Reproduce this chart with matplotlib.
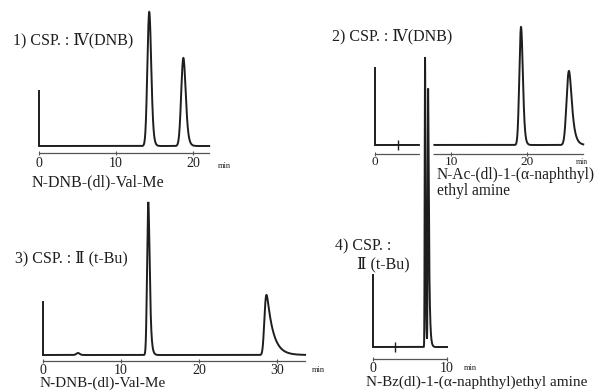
import numpy as np
import matplotlib
matplotlib.use("Agg")
import matplotlib.pyplot as plt
import matplotlib.patheffects as pe

plt.rcParams['font.family'] = ['Liberation Serif', 'DejaVu Serif', 'DejaVu Sans']

# ---------------- data (retention time in min, intensity in arbitrary units) -------------
p1_title = "1) CSP. : Ⅳ(DNB)"
p1_compound = "N-DNB-(dl)-Val-Me"
p1_ticks = [0, 10, 20]
p1_end = 22.1
p1_inj = 55
p1_rt = [14.2, 18.6]
p1_height = [134, 88]
p1_sigma = [0.22, 0.25]
p1_tau = [0.15, 0.2]
p1_marks = []

p2_title = "2) CSP. : Ⅳ(DNB)"
p2_compound = ["N-Ac-(dl)-1-(α-naphthyl)", "ethyl amine"]
p2_ticks = [0, 10, 20]
p2_end = 27.4
p2_inj = 77
p2_rt = [19.1, 25.3]
p2_height = [118, 74]
p2_sigma = [0.2, 0.26]
p2_tau = [0.15, 0.35]
p2_marks = [3.0]

p3_title = "3) CSP. : Ⅱ (t-Bu)"
p3_compound = "N-DNB-(dl)-Val-Me"
p3_ticks = [0, 10, 20, 30]
p3_end = 33.6
p3_inj = 53
p3_rt = [4.4, 13.4, 28.4]
p3_height = [2, 153, 60]
p3_sigma = [0.2, 0.13, 0.18]
p3_tau = [0.1, 0.15, 0.8]
p3_marks = []

p4_title = ["4) CSP. :", "Ⅱ (t-Bu)"]
p4_compound = "N-Bz(dl)-1-(α-naphthyl)ethyl amine"
p4_ticks = [0, 10]
p4_end = 10.0
p4_inj = 72
p4_rt = [7.0, 7.4]
p4_height = [290, 258]
p4_sigma = [0.04, 0.04]
p4_tau = [0.06, 0.12]
p4_marks = [3.0]

W, H = 600, 391
fig = plt.figure(figsize=(W / 100, H / 100), dpi=100)
fig.patch.set_facecolor('white')

INK = '#1e1e1e'


def trace(t_end, inj, rts, heights, sigmas, taus):
    dt = 0.002
    t = np.arange(0, t_end + dt, dt)
    y = np.zeros_like(t)
    for rt, h, s, tau in zip(rts, heights, sigmas, taus):
        g = np.exp(-0.5 * ((t - rt) / s) ** 2)
        kt = np.arange(0, 8 * tau, dt)
        k = np.exp(-kt / tau)
        k /= k.sum()
        c = np.convolve(g, k)[:len(t)]
        y += h * c / c.max()
    t = np.concatenate([[0, 0], t])
    y = np.concatenate([[inj, 0], y])
    return t, y


def panel(t0px, ppm, base_py, axis_py, top_py, t_end, inj, rts, heights, sigmas, taus,
          ticks, marks, halo=False, z=1, pad=1.5, lsize=10):
    left_px = t0px - 4
    right_px = t0px + t_end * ppm + 4
    ax = fig.add_axes([left_px / W, 1 - axis_py / H, (right_px - left_px) / W,
                       (axis_py - top_py) / H], zorder=z)
    ax.patch.set_visible(False)
    ax.set_xlim(-4 / ppm, t_end + 4 / ppm)
    ax.set_ylim(-(axis_py - base_py), base_py - top_py)
    t, y = trace(t_end, inj, rts, heights, sigmas, taus)
    kw = {}
    if halo:
        kw['path_effects'] = [pe.Stroke(linewidth=7, foreground='white'), pe.Normal()]
    ax.plot(t, y, color=INK, lw=1.4, solid_joinstyle='miter', clip_on=False, **kw)
    if marks:
        ax.plot(marks, [0] * len(marks), ls='none', marker='|', ms=7, mew=1.0, color=INK)
    for s in ['top', 'right', 'left']:
        ax.spines[s].set_visible(False)
    ax.spines['bottom'].set_bounds(0, t_end)
    ax.spines['bottom'].set_color('#555555')
    ax.spines['bottom'].set_linewidth(0.9)
    ax.set_yticks([])
    ax.set_xticks(ticks)
    ax.set_xticklabels([str(v) for v in ticks])
    ax.tick_params(axis='x', direction='inout', length=3, width=0.8, color='#555555',
                   pad=pad, labelsize=lsize, labelcolor=INK)
    return ax


def txt(x, y, s, size=11.5, **kw):
    fig.text(x / W, 1 - y / H, s, fontsize=size, color=INK, ha='left', va='center', **kw)


panel(39, 7.7, 146, 153, 10, p1_end, p1_inj, p1_rt, p1_height, p1_sigma, p1_tau, p1_ticks, p1_marks)
panel(375, 7.6, 145, 154, 25, p2_end, p2_inj, p2_rt, p2_height, p2_sigma, p2_tau, p2_ticks, p2_marks,
      pad=0.0, lsize=9.5)
panel(43, 7.8, 355, 361, 200, p3_end, p3_inj, p3_rt, p3_height, p3_sigma, p3_tau, p3_ticks, p3_marks,
      pad=0.5)
panel(373, 7.4, 347, 359, 55, p4_end, p4_inj, p4_rt, p4_height, p4_sigma, p4_tau, p4_ticks, p4_marks,
      halo=True, z=3, pad=0.5)

txt(13, 40, p1_title)
txt(332, 36, p2_title)
txt(15, 258, p3_title)
txt(335, 246, p4_title[0])
txt(357, 264, p4_title[1])

txt(32, 182, p1_compound)
txt(437, 183, "\n".join(p2_compound), size=11.2, linespacing=1.05)
txt(40, 383, p3_compound, size=11)
txt(366, 382, p4_compound, size=11)

txt(218, 166, "min", size=6)
txt(576, 162, "min", size=5.5)
txt(312, 370, "min", size=6)
txt(464, 368, "min", size=6)

fig.savefig("out.png", dpi=100, facecolor='white')
